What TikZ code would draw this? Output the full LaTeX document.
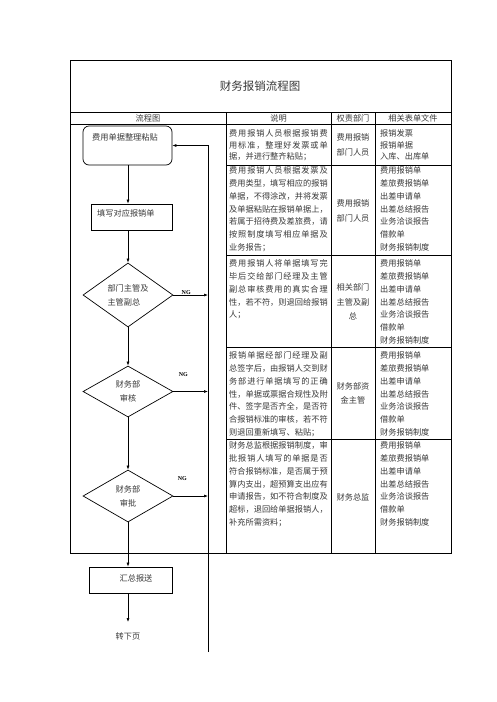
\documentclass[tikz,border=0pt]{standalone}
\usepackage{fontspec}
\setmainfont{Noto Sans CJK SC}
\newfontfamily\ngfont{Liberation Serif}
\usetikzlibrary{positioning,arrows.meta,shapes.geometric}
\newlength{\descw}\setlength{\descw}{98.5pt}
\let\endspread\relax
\def\spreadchars#1#2{#1\ifx#2\endspread\else\hskip 0pt plus 1fil\expandafter\spreadchars\expandafter#2\fi}
\newcommand{\spreadline}[1]{\hbox to \descw{\spreadchars#1\endspread}}
\newcommand{\formlist}{费用报销单\\差旅费报销单\\出差申请单\\出差总结报告\\业务洽谈报告\\借款单\\财务报销制度}

\begin{document}
\begin{tikzpicture}[x=1pt, y=-1pt,
  font=\fontsize{8.2}{12.8}\selectfont,
  every node/.style={text=black!78},
  grid/.style={line width=0.8pt},
  flow/.style={draw, line width=0.7pt, inner sep=0pt},
  rbox/.style={flow, rounded corners=6pt},
  sbox/.style={flow},
  dia/.style={flow, diamond, minimum width=90pt, font=\fontsize{8.2}{14}\selectfont},
  desc/.style={anchor=north west, inner sep=0pt, align=left},
  dept/.style={inner sep=0pt, align=center, font=\fontsize{8.2}{14.5}\selectfont},
  arr/.style={-{Latex[length=4pt,width=3pt]}, line width=0.6pt},
  ng/.style={font=\ngfont\bfseries\fontsize{6}{6.5}\selectfont, inner sep=0.5pt, text=black}]
\useasboundingbox (0,0) rectangle (496,702);

% table frame
\draw[grid] (70,60) rectangle (451,553);
\draw[grid] (70,112) -- (451,112);
\draw[grid] (70,124) -- (451,124);
\foreach \x in {226,331,375} \draw[grid] (\x,112) -- (\x,553);
\foreach \y in {165,255,347,439} \draw[grid] (226,\y) -- (451,\y);

\node[font=\fontsize{11.5}{14}\selectfont] (title) at (260,86) {财务报销流程图};
\node (h-flow) at (148,118) {流程图};
\node (h-desc) at (278.5,118) {说明};
\node (h-dept) at (353,118) {权责部门};
\node (h-form) at (413,118) {相关表单文件};

% description column
\node[desc, font=\fontsize{8.2}{11.5}\selectfont] (desc1) at (229,129.5)
  {\spreadline{费用报销人员根据报销费}\\\spreadline{用标准，整理好发票或单}\\据，并进行整齐粘贴；};
\node[desc] (desc2) at (229,166.5)
  {\spreadline{费用报销人员根据发票及}\\\spreadline{费用类型，填写相应的报销}\\\spreadline{单据，不得涂改，并将发票}\\\spreadline{及单据粘贴在报销单据上，}\\\spreadline{若属于招待费及差旅费，请}\\\spreadline{按照制度填写相应单据及}\\业务报告；};
\node[desc] (desc3) at (229,259.5)
  {\spreadline{费用报销人将单据填写完}\\\spreadline{毕后交给部门经理及主管}\\\spreadline{副总审核费用的真实合理}\\\spreadline{性，若不符，则退回给报销}\\人；};
\node[desc] (desc4) at (229,351.5)
  {\spreadline{报销单据经部门经理及副}\\\spreadline{总签字后，由报销人交到财}\\\spreadline{务部进行单据填写的正确}\\\spreadline{性，单据或票据合规性及附}\\\spreadline{件、签字是否齐全，是否符}\\\spreadline{合报销标准的审核，若不符}\\则退回重新填写、粘贴；};
\node[desc] (desc5) at (229,441.5)
  {\spreadline{财务总监根据报销制度，审}\\\spreadline{批报销人填写的单据是否}\\\spreadline{符合报销标准，是否属于预}\\\spreadline{算内支出，超预算支出应有}\\\spreadline{申请报告，如不符合制度及}\\\spreadline{超标，退回给单据报销人，}\\补充所需资料；};

% department column
\node[dept] (dept1) at (353,145) {费用报销\\部门人员};
\node[dept] (dept2) at (353,211) {费用报销\\部门人员};
\node[dept] (dept3) at (353,302) {相关部门\\主管及副\\总};
\node[dept] (dept4) at (353,393.5) {财务部资\\金主管};
\node[dept] (dept5) at (353,497) {财务总监};

% forms column
\node[desc, font=\fontsize{8.2}{11.5}\selectfont] (form1) at (380,129.5) {报销发票\\报销单据\\入库、出库单};
\foreach \ytop/\nm in {166.5/2, 259.5/3, 351.5/4, 441.5/5}
  \node[desc] (form\nm) at (380,\ytop) {\formlist};

% flow chart
\coordinate (spine) at (128,0);
\coordinate (backend) at (208,652);
\node[rbox, minimum width=89pt, minimum height=39pt] (collect) at (127.5,145.5) {};
\node[anchor=north west, inner sep=0pt] (collect-t) at (92,133.5) {费用单据整理粘贴};
\node[sbox, minimum width=81pt, minimum height=26pt] (fill) at (131.5,217) {};
\node[anchor=west, inner sep=0pt] (fill-t) at (97,213) {填写对应报销单};
\node[dia, minimum height=64pt, align=left] (mgr) at (128,295) {部门主管及\\主管副总};
\node[dia, minimum height=51pt, align=center] (audit) at (128,391.5) {财务部\\审核};
\node[dia, minimum height=52pt, align=center] (approve) at (128,496) {财务部\\审批};
\node[sbox, minimum width=83pt, minimum height=26pt] (report) at (130.5,580) {};
\node[inner sep=0pt] (report-t) at (136,578) {汇总报送};
\node[inner sep=0pt] (nextpage) at (128,636) {转下页};

\draw[arr] (collect.south -| spine) -- (fill.north -| spine);
\draw[arr] (fill.south -| spine) -- (mgr.north);
\draw[arr] (mgr.south) -- (audit.north);
\draw[arr] (audit.south) -- (approve.north);
\draw[arr] (approve.south) -- (report.north -| spine);
\draw[arr] (report.south -| spine) -- ([yshift=10pt]nextpage.north);
\draw[arr] (mgr.east) -- node[ng, above=0pt, pos=0.37] (ng1) {NG} (mgr.east -| backend);
\draw[arr] (audit.east) -- node[ng, above=14pt, pos=0.29] (ng2) {NG} (audit.east -| backend);
\draw[arr] (approve.east) -- node[ng, above=14.5pt, pos=0.26] (ng3) {NG} (approve.east -| backend);
\draw[arr] (backend) -- (backend |- collect.east) -- (collect.east);
\end{tikzpicture}
\end{document}
